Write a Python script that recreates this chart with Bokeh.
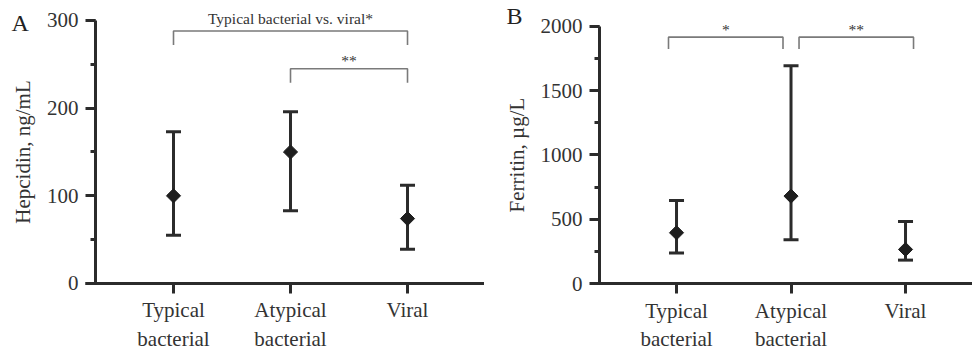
import numpy as np
from bokeh.plotting import figure
from bokeh.layouts import row
from bokeh.models import (FixedTicker, SingleIntervalTicker, Range1d, Label,
                          ColumnDataSource, TeeHead, Whisker)
from bokeh.core.properties import value
from bokeh.embed import file_html
from bokeh.resources import INLINE

# ---------------- data ----------------
categories = ["Typical\nbacterial", "Atypical\nbacterial", "Viral"]

hep_median = [100, 150, 74]
hep_low = [55, 83, 39]
hep_high = [173, 196, 112]

fer_median = [395, 680, 265]
fer_low = [237, 340, 182]
fer_high = [646, 1695, 482]

hep_brackets = [(0, 2), (1, 2)]
hep_bracket_y = [288, 245]
hep_bracket_drop = 16
hep_bracket_labels = ["Typical bacterial vs. viral*", "**"]

fer_brackets = [(0, 1), (1, 2)]
fer_bracket_y = [1917, 1917]
fer_bracket_drop = 92
fer_bracket_labels = ["*", "**"]

# ---------------- style ----------------
FONT = "Liberation Serif"
DARK = "#2b2b2b"
GRAY = "#7a7a7a"
TXT = "#333333"
HEIGHT = 351


def make_panel(width, x_range, y_range, yaxis_x, xaxis_x0, y_max, interval,
               ylabel, med, lo, hi, brackets, br_y, br_drop, br_labels,
               br_shift, br_offsets, letter, letter_xy):
    p = figure(width=width, height=HEIGHT, output_backend="svg",
               toolbar_location=None,
               x_range=Range1d(*x_range), y_range=Range1d(*y_range),
               min_border_left=0, min_border_right=0,
               min_border_top=0, min_border_bottom=0)
    p.outline_line_color = None
    p.grid.visible = False
    p.background_fill_color = "white"

    xs = [i + 1 for i in range(len(categories))]

    # axes (drawn at fixed data positions inside the frame)
    xa = p.xaxis[0]
    xa.ticker = FixedTicker(ticks=xs, minor_ticks=[])
    xa.major_label_overrides = {x: c for x, c in zip(xs, categories)}
    xa.fixed_location = 0
    xa.bounds = (xaxis_x0, x_range[1])
    ya = p.yaxis[0]
    ya.ticker = SingleIntervalTicker(interval=interval, num_minor_ticks=2)
    ya.bounds = (0, y_max)
    ya.axis_label = ylabel
    ya.fixed_location = yaxis_x
    for ax in (xa, ya):
        ax.axis_line_color = DARK
        ax.axis_line_width = 3
        ax.major_tick_line_color = DARK
        ax.major_tick_line_width = 3
        ax.minor_tick_line_color = DARK
        ax.minor_tick_line_width = 3
        ax.major_tick_in = 0
        ax.minor_tick_in = 0
        ax.major_tick_out = 10
        ax.minor_tick_out = 5
        ax.major_label_text_font = FONT
        ax.major_label_text_font_size = "21px"
        ax.major_label_text_color = TXT
        ax.axis_label_text_font = FONT
        ax.axis_label_text_font_style = "normal"
        ax.axis_label_text_font_size = "21px"
        ax.axis_label_text_color = TXT
    xa.major_label_standoff = 5
    xa.major_label_text_line_height = 1.2
    ya.major_label_standoff = 7
    ya.axis_label_standoff = 9

    # error bars
    src = ColumnDataSource(dict(x=xs, med=med, lo=lo, hi=hi))
    w = Whisker(base="x", lower="lo", upper="hi", source=src,
                dimension="height", line_color=DARK, line_width=3,
                upper_head=TeeHead(size=15, line_color=DARK, line_width=3),
                lower_head=TeeHead(size=15, line_color=DARK, line_width=3))
    p.add_layout(w)
    p.scatter("x", "med", source=src, marker="square", angle=np.pi / 4,
              size=10, fill_color="#1e1e1e", line_color="#1e1e1e")

    # significance brackets
    bx, by, tx, ty = [], [], [], []
    for (a, b), yv, sh in zip(brackets, br_y, br_shift):
        x0, x1 = xs[a] + sh, xs[b] + sh
        bx.append([x0, x0, x1, x1])
        by.append([yv - br_drop, yv, yv, yv - br_drop])
        tx.append((x0 + x1) / 2)
        ty.append(yv)
    p.multi_line(bx, by, line_color=GRAY, line_width=1.6)
    p.text(tx, ty, text=br_labels, text_font=value(FONT),
           text_font_size="15.5px", text_color=TXT, text_align="center",
           text_baseline="alphabetic", y_offset=br_offsets)

    p.add_layout(Label(x=letter_xy[0], y=letter_xy[1], x_units="screen",
                       y_units="screen", text=letter, text_font=FONT,
                       text_font_size="24px", text_color="#222222",
                       text_baseline="alphabetic"))
    return p


pA = make_panel(484, (-0.4786, 3.658), (-77.6, 322.8), 0.3333, 0.248, 300, 100,
                "Hepcidin, ng/mL", hep_median, hep_low, hep_high,
                hep_brackets, hep_bracket_y, hep_bracket_drop,
                hep_bracket_labels, [0, 0], [-13, -8], "A", (11, 329))
pB = make_panel(488, (-0.677, 3.585), (-529, 2202), 0.3275, 0.249, 2000, 500,
                "Ferritin, µg/L", fer_median, fer_low, fer_high,
                fer_brackets, fer_bracket_y, fer_bracket_drop,
                fer_bracket_labels, [-0.07, 0.07], [-8, -8], "B", (22, 336))

layout = row(pA, pB)
open("out.html", "w").write(file_html(layout, INLINE))
